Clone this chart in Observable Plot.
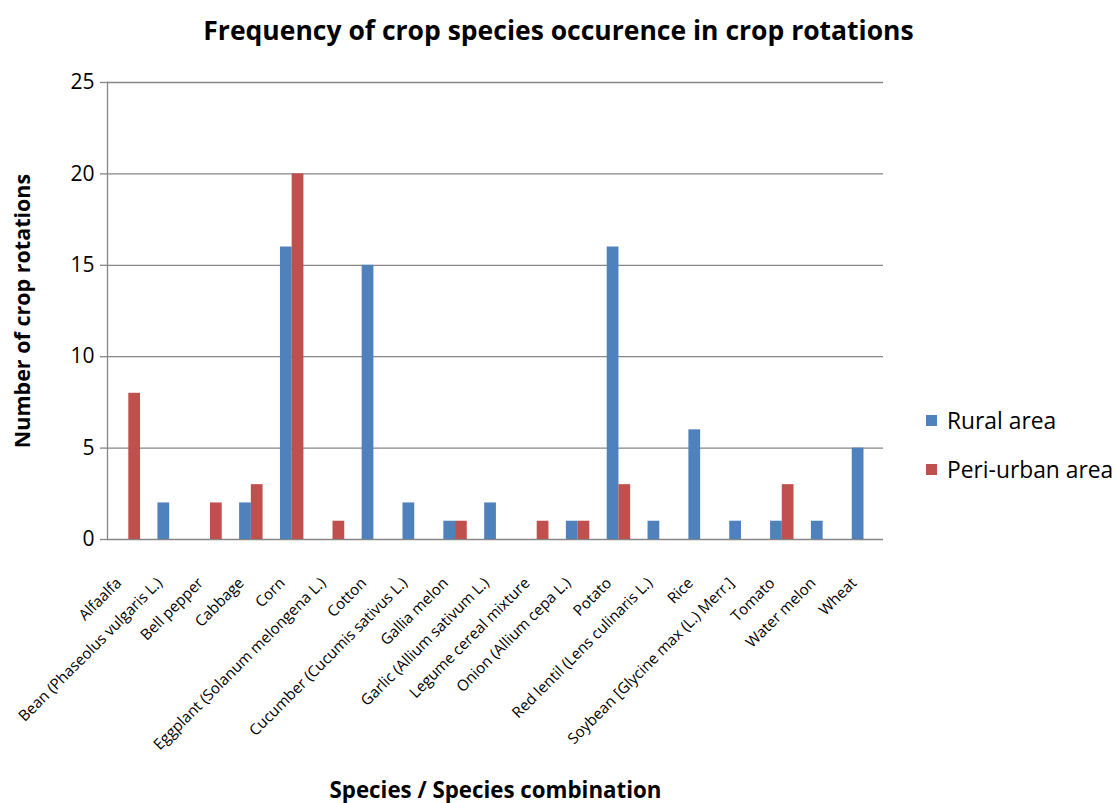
<!DOCTYPE html>
<html>
<head>
<meta charset="utf-8">
<script src="https://cdn.jsdelivr.net/npm/d3@7"></script>
<script src="https://cdn.jsdelivr.net/npm/@observablehq/plot@0.6"></script>
<style>
  body { margin: 0; background: #fff; font-family: "Open Sans", Lato, sans-serif; color: #000; }
  #wrap { position: relative; width: 1117px; height: 803px; overflow: hidden; }
  #title { height: 60px; line-height: 60px; text-align: center; font-weight: bold; font-size: 26.5px; }
  #legend { position: absolute; left: 926px; top: 396px; font-size: 22.8px; }
  .item { display: flex; align-items: center; height: 49px; }
  .sw { width: 11px; height: 11px; margin-right: 10px; flex: none; }
</style>
</head>
<body>
<div id="wrap">
  <div id="title">Frequency of crop species occurence in crop rotations</div>
  <div id="chart"></div>
  <div id="legend"></div>
</div>
<script>
const categories = [
  "Alfaalfa", "Bean (Phaseolus vulgaris L.)", "Bell pepper", "Cabbage", "Corn",
  "Eggplant (Solanum melongena L.)", "Cotton", "Cucumber (Cucumis sativus L.)",
  "Gallia melon", "Garlic (Allium sativum L.)", "Legume cereal mixture",
  "Onion (Allium cepa L.)", "Potato", "Red lentil (Lens culinaris L.)", "Rice",
  "Soybean [Glycine max (L.) Merr.]", "Tomato", "Water melon", "Wheat"
];
const series = ["Rural area", "Peri-urban area"];
const rural =     [0, 2, 0, 2, 16, 0, 15, 2, 1, 2, 0, 1, 16, 1, 6, 1, 1, 1, 5];
const periUrban = [8, 0, 2, 3, 20, 1, 0, 0, 1, 0, 1, 1, 3, 0, 0, 0, 3, 0, 0];
const yTicks = [0, 5, 10, 15, 20, 25];
const colors = ["#4F81BD", "#C0504D"];

const data = categories.map((c, i) => ({category: c, rural: rural[i], peri: periUrban[i]}));

const grid = "#868686";
const font = "'Open Sans', Lato, sans-serif";
const chart = Plot.plot({
  width: 1117,
  height: 743,
  marginTop: 22,
  marginBottom: 264,
  marginLeft: 107,
  marginRight: 234,
  style: { fontFamily: font, fontSize: "15.2px", color: "#000", background: "#fff" },
  x: { domain: categories, padding: 0, round: false },
  y: { domain: [0, 25] },
  marks: [
    Plot.ruleY(yTicks, { stroke: grid, strokeWidth: 1.3 }),
    Plot.frame({ anchor: "left", stroke: grid, strokeWidth: 1.3 }),
    Plot.barY(data, { x: "category", y: "rural", fill: colors[0], insetLeft: 9.6, insetRight: 19.5 }),
    Plot.barY(data, { x: "category", y: "peri", fill: colors[1], insetLeft: 21.3, insetRight: 7.8 }),
    Plot.axisY({ ticks: yTicks, tickSize: 7, stroke: grid, strokeWidth: 1.3, fontSize: 21, tickPadding: 6,
      label: "Number of crop rotations", labelAnchor: "center", labelArrow: "none", labelOffset: 93 }),
    Plot.axisX({ tickRotate: -45, tickSize: 0, tickPadding: 41, dx: -9, fontSize: 15.2,
      label: "Species / Species combination", labelAnchor: "center", labelArrow: "none", labelOffset: 258 })
  ]
});
document.getElementById("chart").appendChild(chart);

chart.querySelectorAll("g[aria-label='y-axis label'] text").forEach(t => {
  t.style.fontWeight = "bold";
  t.style.fontSize = "21.5px";
});
chart.querySelectorAll("g[aria-label='x-axis label'] text").forEach(t => {
  t.style.fontWeight = "bold";
  t.style.fontSize = "22.3px";
});

const legend = document.getElementById("legend");
series.forEach((s, i) => {
  const it = document.createElement("div");
  it.className = "item";
  it.innerHTML = `<span class="sw" style="background:${colors[i]}"></span><span>${s}</span>`;
  legend.appendChild(it);
});
</script>
</body>
</html>
